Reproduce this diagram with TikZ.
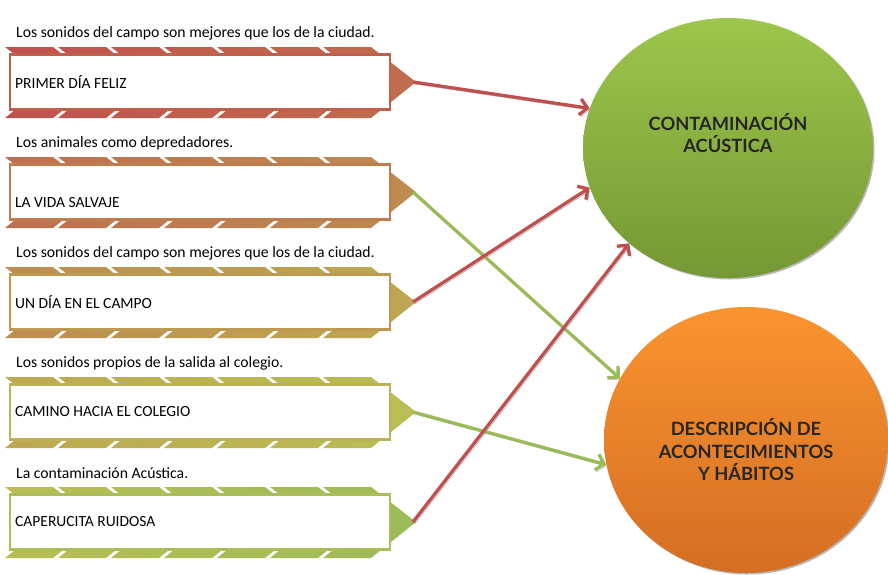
\documentclass[tikz,border=0pt]{standalone}
\usepackage{fontspec}
\setmainfont{Carlito}
\newfontfamily\latofont{Lato}
\usetikzlibrary{shapes.geometric,arrows.meta,shadows}

\definecolor{c0}{RGB}{192,80,77}
\definecolor{c1}{RGB}{192,110,78}
\definecolor{c2}{RGB}{190,140,80}
\definecolor{c3}{RGB}{190,168,82}
\definecolor{c4}{RGB}{185,190,84}
\definecolor{c5}{RGB}{155,187,89}
\definecolor{redline}{RGB}{192,80,77}
\definecolor{greenline}{RGB}{155,187,89}

\begin{document}
\begin{tikzpicture}[x=1pt,y=-1pt,
		topic node/.style={ellipse,draw=none,inner sep=0pt,
			drop shadow={shadow xshift=1.5pt,shadow yshift=-1.5pt,fill=black!40,opacity=.7}},
		topic text/.style={align=center,text=black!85,
			font=\latofont\bfseries\fontsize{18.3}{22.5}\selectfont},
		item box/.style={rectangle,fill=white,line width=2.5pt,
			minimum width=380pt,minimum height=55pt},
		item text/.style={anchor=west,inner sep=2pt,font=\fontsize{15.5}{18}\selectfont},
		note text/.style={anchor=west,inner sep=2pt,font=\fontsize{15.7}{18}\selectfont},
		link/.style={line width=3.3pt,-{Straight Barb[length=7.5pt,width=16pt]},
			preaction={draw=black!40,transform canvas={shift={(1.6pt,-2pt)}}}}]
	\useasboundingbox (0,0) rectangle (888,574);

	% chevron bands with their boxes
	\foreach \m/\cl/\cr/\dy/\n/\cap/\txt in {
			82/c0/c1/0/1/{Los sonidos del campo son mejores que los de la ciudad.}/{PRIMER DÍA FELIZ},
			192/c1/c2/11/2/{Los animales como depredadores.}/{LA VIDA SALVAJE},
			302/c2/c3/0/3/{Los sonidos del campo son mejores que los de la ciudad.}/{UN DÍA EN EL CAMPO},
			412/c3/c4/0/4/{Los sonidos propios de la salida al colegio.}/{CAMINO HACIA EL COLEGIO},
			522/c4/c5/0/5/{La contaminación Acústica.}/{CAPERUCITA RUIDOSA}}{
		\shade[left color=\cl,right color=\cr] foreach \k in {0,...,6}{
			({5+53*\k},{\m-35}) -- ({53+53*\k},{\m-35}) -- ({98+53*\k},\m)
			-- ({53+53*\k},{\m+36}) -- ({5+53*\k},{\m+36}) -- ({50+53*\k},\m) -- cycle};
		\node[item box,draw=\cl!50!\cr] (box\n) at (200,\m) {};
		\node[item text] (item\n) at (13,{\m+\dy}) {\txt};
		\node[note text] (note\n) at (14,{\m-49}) {\cap};
		\coordinate (tip\n) at (413,\m);
	}

	% the two topics
	\node[topic node,minimum width=290pt,minimum height=260pt,
		top color={rgb,255:red,157;green,198;blue,76},
		bottom color={rgb,255:red,117;green,152;blue,52}] (acustica) at (728,148) {};
	\node[topic text] (acustica text) at ([yshift=15pt]acustica.center)
		{CONTAMINACIÓN\\ACÚSTICA};
	\node[topic node,minimum width=284pt,minimum height=266pt,
		top color={rgb,255:red,250;green,148;blue,48},
		bottom color={rgb,255:red,212;green,110;blue,35}] (habitos) at (746,440) {};
	\node[topic text] (habitos text) at ([yshift=-10pt]habitos.center)
		{DESCRIPCIÓN DE\\ACONTECIMIENTOS\\Y HÁBITOS};

	% links
	\draw[link,redline] (tip1) -- (acustica.164);
	\draw[link,greenline] (tip2) -- (habitos.154);
	\draw[link,redline] (tip3) -- (acustica.196);
	\draw[link,greenline] (tip4) -- (habitos.190);
	\draw[link,redline] (tip5) -- (acustica.224);
\end{tikzpicture}
\end{document}
